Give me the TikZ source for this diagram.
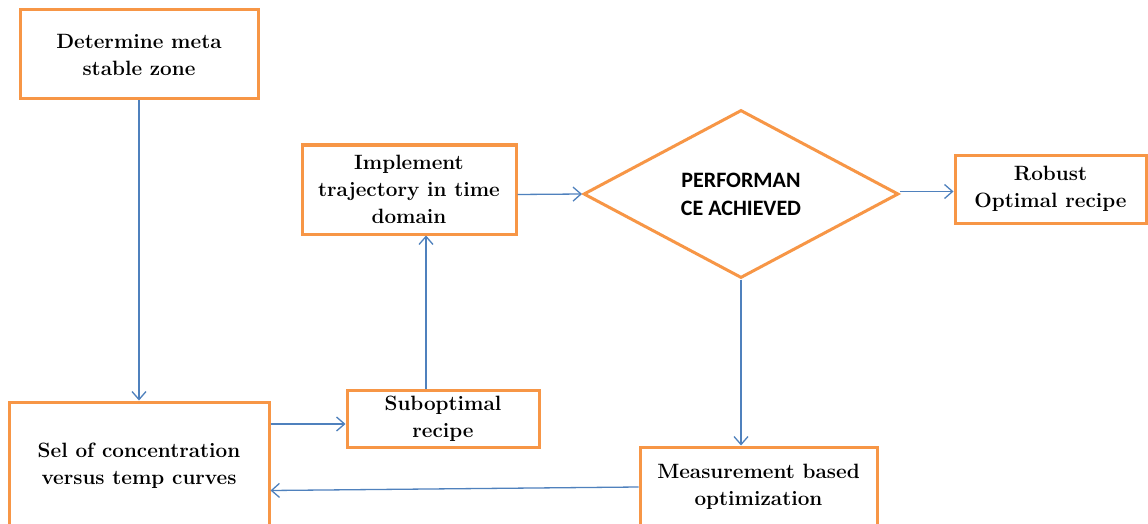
\documentclass[tikz,border=0pt]{standalone}
\usepackage{fontspec}
\newfontfamily\calibri{Carlito}
\usetikzlibrary{shapes.geometric,arrows.meta}
\definecolor{boxorange}{HTML}{F79646}
\definecolor{flowblue}{HTML}{4F81BD}

\begin{document}
\begin{tikzpicture}[x=1pt,y=-1pt,
  stepbox/.style={draw=boxorange,line width=3pt,fill=white,align=center,inner sep=0pt,
    font=\bfseries\fontsize{20.7}{27}\selectfont},
  decision/.style={diamond,draw=boxorange,line width=3pt,fill=white,aspect=1.875,inner sep=0pt,
    align=center,font=\calibri\bfseries\fontsize{22}{28}\selectfont},
  flow/.style={draw=flowblue,line width=1.3pt,-{Straight Barb[length=8pt,width=14pt]}}]
  \useasboundingbox (0,0) rectangle (1148,524);
  \clip (0,0) rectangle (1148,524);
  \fill[white] (0,0) rectangle (1148,524);

  % process steps
  \node[stepbox,minimum width=238pt,minimum height=89pt] (zone) at (139,54.5)
    {Determine meta\\stable zone};
  \node[stepbox,minimum width=214pt,minimum height=89pt] (traj) at (409,189.5)
    {Implement\\trajectory in time\\domain};
  \node[decision,minimum width=315pt,minimum height=168pt] (perf) at (741,194)
    {PERFORMAN\\CE ACHIEVED};
  \node[stepbox,minimum width=191pt,minimum height=68pt] (robust) at (1050.5,189)
    {Robust\\Optimal recipe};
  \node[stepbox,minimum width=260pt,minimum height=127pt] (sel) at (139,465.5)
    {Sel of concentration\\versus temp curves};
  \node[stepbox,minimum width=192pt,minimum height=57pt] (subopt) at (443,418.5)
    {Suboptimal\\recipe};
  \node[stepbox,minimum width=237pt,minimum height=80pt] (meas) at (758.5,487)
    {Measurement based\\optimization};

  % connectors
  \draw[flow] (zone) -- (sel);
  \draw[flow] ([yshift=-5.5pt]subopt.west -| sel.east) -- ([yshift=-5.5pt]subopt.west);
  \draw[flow] ([xshift=-17pt]subopt.north) -- ([xshift=-17pt]subopt.north |- traj.south);
  \draw[flow] ([yshift=-5pt]traj.east) -- (perf.west);
  \draw[flow] ([yshift=2.5pt]perf.east) -- ([yshift=2.5pt]perf.east -| robust.west);
  \draw[flow] (perf.south) -- (perf.south |- meas.north);
  \draw[flow] (meas.west) -- ([yshift=-25pt]sel.east);
\end{tikzpicture}
\end{document}
